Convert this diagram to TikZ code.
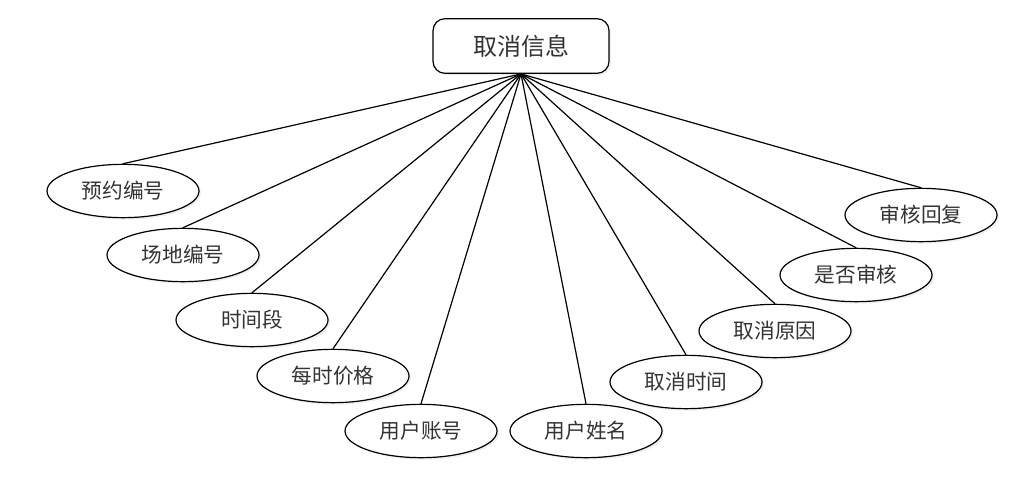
\documentclass[tikz,border=0pt]{standalone}
\usepackage{fontspec}
\setmainfont{Noto Sans CJK SC}
\usetikzlibrary{shapes.geometric,shadows}

\begin{document}
\begin{tikzpicture}[
x=0.75pt,y=-0.75pt,
entity/.style={
  draw,
  rounded corners=9pt,
  line width=0.9pt,
  minimum width=132pt,
  minimum height=41pt,
  font=\fontsize{18}{20}\selectfont,
  text=black!80,
  fill=white,
  drop shadow={opacity=0.12,shadow xshift=1.5pt,shadow yshift=-1.5pt}
},
attr/.style={
  draw,
  ellipse,
  inner sep=0pt,
  line width=0.9pt,
  minimum width=114pt,
  minimum height=40pt,
  font=\fontsize{15.5}{17}\selectfont,
  text=black!80,
  fill=white,
  drop shadow={opacity=0.12,shadow xshift=1.5pt,shadow yshift=-1.5pt}
},
link/.style={line width=0.9pt}
]
\useasboundingbox (0,0) rectangle (1016,477);

\node[entity] (cancel) at (521,46) {取消信息};

\node[attr] (bookno)  at (123,191) {预约编号};
\node[attr] (siteno)  at (183,255) {场地编号};
\node[attr] (period)  at (252,320) {时间段};
\node[attr] (price)   at (333,376) {每时价格};
\node[attr] (userid)  at (421,431) {用户账号};
\node[attr] (uname)   at (586,431) {用户姓名};
\node[attr] (ctime)   at (686,382) {取消时间};
\node[attr] (reason)  at (775,331) {取消原因};
\node[attr] (checked) at (856,275) {是否审核};
\node[attr] (reply)   at (921,215) {审核回复};

\foreach \n in {bookno,siteno,period,price,userid,uname,ctime,reason,checked,reply}
  \draw[link] (cancel.south) -- (\n.north);

\end{tikzpicture}
\end{document}
